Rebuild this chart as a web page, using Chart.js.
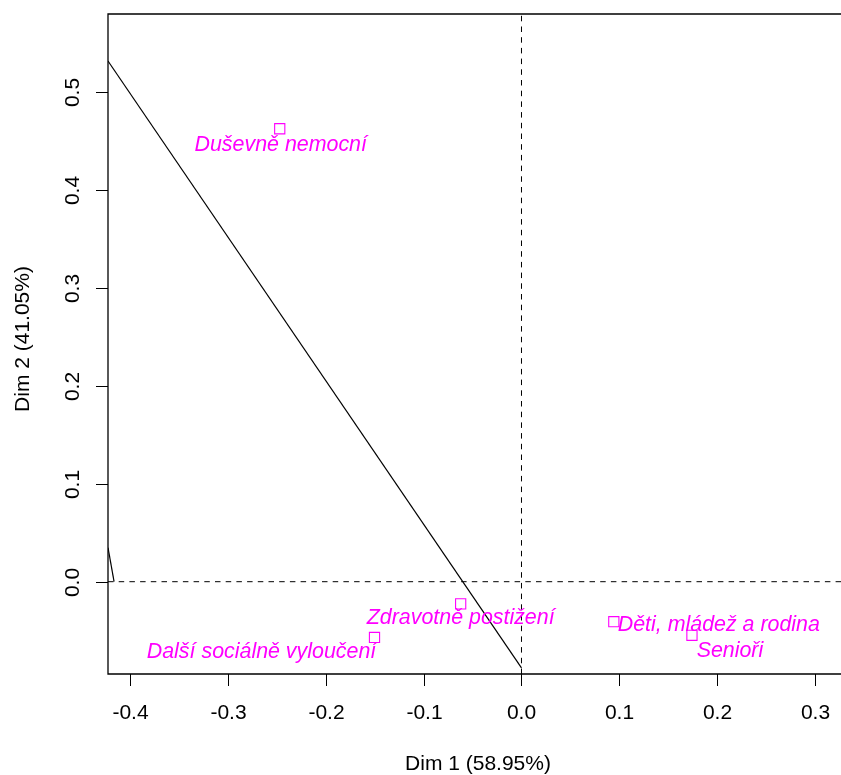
<!DOCTYPE html>
<html>
<head>
<meta charset="utf-8">
<script src="https://cdn.jsdelivr.net/npm/chart.js@4.4.1/dist/chart.umd.min.js"></script>
<style>
html,body{margin:0;padding:0;background:#fff;overflow:hidden;}
canvas{display:block;}
</style>
</head>
<body>
<canvas id="c" width="841" height="775" style="width:841px;height:775px;"></canvas>
<script>
// Category labels and CA coordinates
const categories = ["Duševně nemocní", "Zdravotně postižení", "Další sociálně vyloučení", "Děti, mládež a rodina", "Senioři"];
const dim1 = [-0.2472, -0.0622, -0.1503, 0.0944, 0.1743];
const dim2 = [0.4622, -0.0226, -0.0569, -0.0408, -0.0547];

// Axis ticks
const xTicks = [-0.4, -0.3, -0.2, -0.1, 0.0, 0.1, 0.2, 0.3];
const yTicks = [0.0, 0.1, 0.2, 0.3, 0.4, 0.5];
const xRange = [-0.4228, 0.3267];
const yRange = [-0.0942, 0.5793];

// Line segments (data coords)
const line1X = [-0.4228, 0.0];
const line1Y = [0.5313, -0.0880];
const line2X = [-0.4228, -0.4166];
const line2Y = [0.0347, 0.0000];

// Label offsets in pixels (style)
const labelOffsets = [[1, 16], [0, 14], [-113, 15], [105, 3], [38, 16]];

const FONT = '"Liberation Sans", Arial, Helvetica, sans-serif';
const MAG = '#FF00FF';

const pts = categories.map((c, i) => ({x: dim1[i], y: dim2[i]}));

const overlay = {
  id: 'overlay',
  afterDraw(chart) {
    const ctx = chart.ctx;
    const a = chart.chartArea;
    const xs = chart.scales.x, ys = chart.scales.y;
    ctx.save();
    // box
    ctx.strokeStyle = '#000';
    ctx.lineWidth = 1.3;
    ctx.beginPath();
    ctx.moveTo(a.right + 5, a.top);
    ctx.lineTo(a.left, a.top);
    ctx.lineTo(a.left, a.bottom);
    ctx.lineTo(a.right + 5, a.bottom);
    ctx.stroke();
    // x ticks
    ctx.lineWidth = 1;
    ctx.fillStyle = '#000';
    ctx.font = '21px ' + FONT;
    ctx.textAlign = 'center';
    ctx.textBaseline = 'middle';
    xTicks.forEach(v => {
      const px = Math.round(xs.getPixelForValue(v)) + 0.5;
      ctx.beginPath();
      ctx.moveTo(px, a.bottom);
      ctx.lineTo(px, a.bottom + 12);
      ctx.stroke();
      ctx.fillText(v.toFixed(1), px, a.bottom + 39);
    });
    // y ticks
    yTicks.forEach(v => {
      const py = Math.round(ys.getPixelForValue(v)) + 0.5;
      ctx.beginPath();
      ctx.moveTo(a.left, py);
      ctx.lineTo(a.left - 12, py);
      ctx.stroke();
      ctx.save();
      ctx.translate(a.left - 35, py);
      ctx.rotate(-Math.PI / 2);
      ctx.fillText(v.toFixed(1), 0, 0);
      ctx.restore();
    });
    // axis titles
    ctx.fillText('Dim 1 (58.95%)', 478, 764);
    ctx.save();
    ctx.translate(23, 339);
    ctx.rotate(-Math.PI / 2);
    ctx.fillText('Dim 2 (41.05%)', 0, 0);
    ctx.restore();
    // point labels
    ctx.fillStyle = MAG;
    ctx.font = 'italic 21.4px ' + FONT;
    pts.forEach((p, i) => {
      const px = xs.getPixelForValue(p.x) + labelOffsets[i][0];
      const py = ys.getPixelForValue(p.y) + labelOffsets[i][1];
      ctx.fillText(categories[i], px, py);
    });
    ctx.restore();
  }
};

new Chart(document.getElementById('c'), {
  type: 'scatter',
  data: {
    datasets: [
      {
        label: 'zero-x',
        data: [{x: 0, y: yRange[0]}, {x: 0, y: yRange[1]}],
        showLine: true, borderColor: '#000', borderWidth: 1, borderDash: [5.5, 5.2],
        pointRadius: 0, order: 3
      },
      {
        label: 'zero-y',
        data: [{x: xRange[0], y: 0}, {x: xRange[1], y: 0}],
        showLine: true, borderColor: '#000', borderWidth: 1, borderDash: [5.5, 5.2],
        pointRadius: 0, order: 3
      },
      {
        label: 'line1',
        data: line1X.map((x, i) => ({x, y: line1Y[i]})),
        showLine: true, borderColor: '#000', borderWidth: 1.2, pointRadius: 0, order: 2
      },
      {
        label: 'line2',
        data: line2X.map((x, i) => ({x, y: line2Y[i]})),
        showLine: true, borderColor: '#000', borderWidth: 1.2, pointRadius: 0, order: 2
      },
      {
        label: 'points',
        data: pts,
        pointStyle: 'rect', pointRadius: 7.2, pointHoverRadius: 7.2,
        borderColor: MAG, backgroundColor: 'rgba(255,255,255,0)', pointBorderWidth: 1.1,
        order: 1
      }
    ]
  },
  options: {
    responsive: false,
    maintainAspectRatio: false,
    animation: false,
    events: [],
    layout: {autoPadding: false, padding: {left: 108, top: 14, right: 0, bottom: 101}},
    plugins: {legend: {display: false}, tooltip: {enabled: false}},
    scales: {
      x: {type: 'linear', min: xRange[0], max: xRange[1], display: false},
      y: {type: 'linear', min: yRange[0], max: yRange[1], display: false}
    }
  },
  plugins: [overlay]
});
</script>
</body>
</html>
